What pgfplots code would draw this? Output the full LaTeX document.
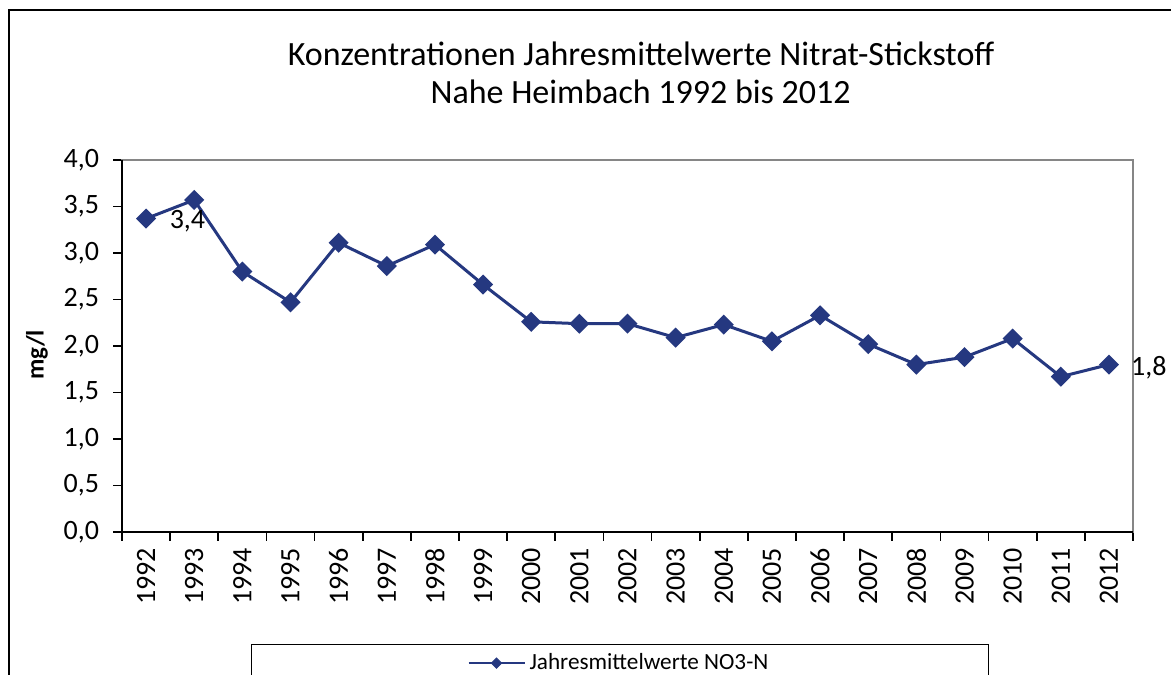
\documentclass[border=0pt]{standalone}
\usepackage{fontspec}
\setmainfont{Carlito}
\usepackage{pgfplots}
\pgfplotsset{compat=1.18}
\definecolor{navy}{RGB}{37,56,128}
\definecolor{axgray}{RGB}{134,134,134}
\begin{document}
\begin{tikzpicture}[x=1pt,y=1pt]
\clip (0,0) rectangle (585.5,337);
\path[fill=white] (0,0) rectangle (585.5,337);
\draw[line width=1pt] (4.5,-5) -- (4.5,332) -- (600,332);
\node[anchor=base, font=\fontsize{17}{20}\selectfont, inner sep=0pt] at (320.5,304) {Konzentrationen Jahresmittelwerte Nitrat-Stickstoff};
\node[anchor=base, font=\fontsize{17}{20}\selectfont, inner sep=0pt] at (320.3,285) {Nahe Heimbach 1992 bis 2012};
\node[rotate=90, font=\bfseries\fontsize{12.5}{15}\selectfont, inner sep=0pt] at (18.5,159.5) {mg/l};
\begin{axis}[
  at={(61pt,71pt)}, anchor=south west,
  scale only axis, width=505.5pt, height=186pt,
  xmin=-0.5, xmax=20.5, ymin=0, ymax=4,
  clip=false,
  axis line style={axgray, line width=1pt},
  tick style={black, line width=0.8pt},
  tick align=outside,
  major tick length=4.5pt,
  xtick pos=bottom, ytick pos=left,
  xtick={-0.5,0.5,...,20.5},
  x tick label as interval,
  xticklabels={1992,1993,1994,1995,1996,1997,1998,1999,2000,2001,2002,2003,2004,2005,2006,2007,2008,2009,2010,2011,2012},
  tick label style={font=\fontsize{14}{16}\selectfont},
  xticklabel style={rotate=90, anchor=east},
  ytick={0,0.5,...,4},
  yticklabel style={xshift=-3.5pt, /pgf/number format/.cd, fixed, fixed zerofill, precision=1, use comma, assume math mode=true},
  legend style={at={(0.4925,-0.301)}, anchor=north, draw=black, line width=0.6pt,
    inner xsep=108pt, font=\fontsize{11.6}{13}\selectfont, inner ysep=2.5pt},
  legend image code/.code={
    \draw[#1, line width=1pt] (0pt,0pt) -- (28pt,0pt);
    \draw[#1, line width=0.5pt, mark size=1.8pt] plot coordinates {(14pt,0pt)};
  },
]
\addplot[navy, line width=1.5pt, mark=square*, mark size=2.8pt, mark options={rotate=45, solid}]
coordinates {
(0,3.37) (1,3.57) (2,2.80) (3,2.47) (4,3.11) (5,2.86) (6,3.09) (7,2.66)
(8,2.26) (9,2.24) (10,2.24) (11,2.09) (12,2.23) (13,2.05) (14,2.33) (15,2.02)
(16,1.80) (17,1.88) (18,2.08) (19,1.67) (20,1.80)
};
\addlegendentry{Jahresmittelwerte NO3-N}
\node[font=\fontsize{14}{16}\selectfont, inner sep=0pt] at (axis cs:0.86,3.34) {3,4};
\node[font=\fontsize{14}{16}\selectfont, inner sep=0pt] at (axis cs:20.83,1.77) {1,8};
\draw[black, line width=1pt] (rel axis cs:0,1) -- (rel axis cs:0,0) -- (rel axis cs:1,0);
\end{axis}
\end{tikzpicture}
\end{document}
